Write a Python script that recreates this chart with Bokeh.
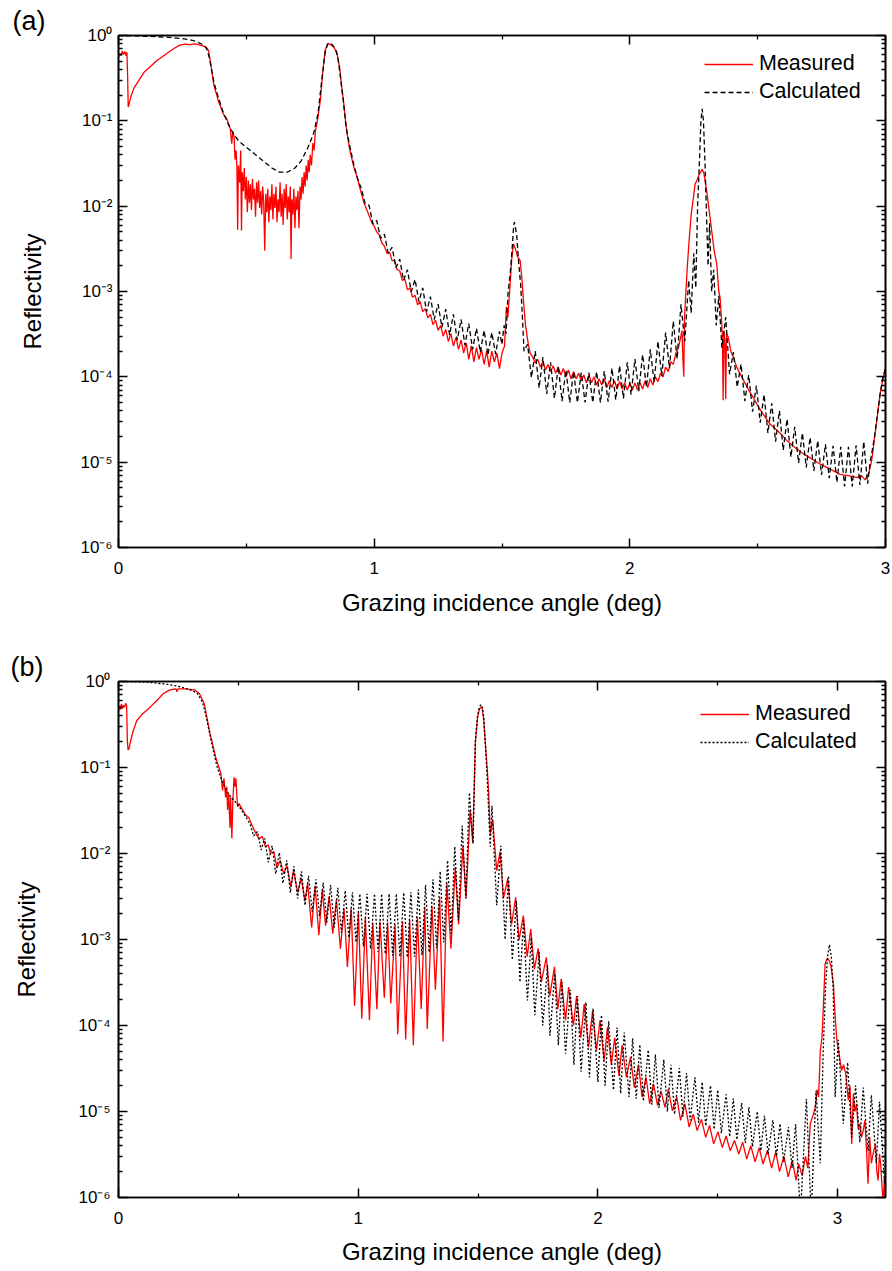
from bokeh.plotting import figure
from bokeh.models import (Range1d, LinearAxis, LogAxis, FixedTicker, CustomJSTickFormatter,
                          Legend, LegendItem, Title)
from bokeh.layouts import column
from bokeh.embed import file_html
from bokeh.resources import INLINE

FONT = "Liberation Sans"

# ---------------- Panel (a) data ----------------
a_meas_x = [
    0.000, 0.005, 0.010, 0.015, 0.020, 0.025, 0.030, 0.033, 0.036, 0.038,
    0.042, 0.050, 0.060, 0.080, 0.100, 0.124, 0.150, 0.170, 0.190, 0.215,
    0.240, 0.260, 0.280, 0.300, 0.320, 0.340, 0.352, 0.362, 0.372, 0.391,
    0.410, 0.424, 0.437, 0.443, 0.447, 0.452, 0.456, 0.460, 0.463, 0.466,
    0.469, 0.474, 0.478, 0.481, 0.484, 0.488, 0.492, 0.496, 0.500, 0.504,
    0.508, 0.512, 0.516, 0.520, 0.524, 0.528, 0.532, 0.536, 0.540, 0.544,
    0.548, 0.552, 0.556, 0.560, 0.564, 0.568, 0.572, 0.576, 0.580, 0.584,
    0.588, 0.592, 0.596, 0.600, 0.604, 0.608, 0.612, 0.616, 0.620, 0.624,
    0.628, 0.632, 0.636, 0.640, 0.644, 0.648, 0.652, 0.656, 0.660, 0.664,
    0.668, 0.672, 0.675, 0.678, 0.682, 0.686, 0.690, 0.694, 0.698, 0.702,
    0.706, 0.710, 0.714, 0.718, 0.722, 0.726, 0.730, 0.734, 0.738, 0.742,
    0.746, 0.750, 0.755, 0.760, 0.765, 0.770, 0.778, 0.789, 0.800, 0.808,
    0.815, 0.822, 0.830, 0.840, 0.854, 0.865, 0.872, 0.880, 0.888, 0.895,
    0.905, 0.920, 0.935, 0.945, 0.960, 0.975, 0.990, 1.000, 1.010, 1.020,
    1.030, 1.040, 1.050, 1.060, 1.070, 1.080, 1.090, 1.100, 1.110, 1.120,
    1.130, 1.140, 1.150, 1.160, 1.170, 1.180, 1.190, 1.200, 1.210, 1.220,
    1.230, 1.240, 1.250, 1.260, 1.270, 1.280, 1.290, 1.300, 1.310, 1.320,
    1.330, 1.340, 1.350, 1.360, 1.370, 1.380, 1.390, 1.400, 1.410, 1.420,
    1.430, 1.440, 1.450, 1.460, 1.470, 1.480, 1.490, 1.500, 1.510, 1.517,
    1.523, 1.530, 1.538, 1.545, 1.552, 1.560, 1.571, 1.578, 1.584, 1.592,
    1.603, 1.610, 1.620, 1.630, 1.640, 1.650, 1.660, 1.670, 1.680, 1.690,
    1.700, 1.710, 1.720, 1.730, 1.740, 1.750, 1.760, 1.770, 1.780, 1.790,
    1.800, 1.810, 1.820, 1.830, 1.840, 1.850, 1.860, 1.870, 1.880, 1.890,
    1.900, 1.910, 1.920, 1.930, 1.940, 1.950, 1.960, 1.970, 1.980, 1.990,
    2.000, 2.010, 2.020, 2.030, 2.040, 2.050, 2.060, 2.070, 2.080, 2.090,
    2.100, 2.110, 2.120, 2.130, 2.140, 2.150, 2.160, 2.170, 2.180, 2.190,
    2.200, 2.204, 2.208, 2.211, 2.214, 2.218, 2.225, 2.232, 2.240, 2.249,
    2.255, 2.262, 2.270, 2.283, 2.290, 2.302, 2.310, 2.320, 2.330, 2.340,
    2.348, 2.353, 2.358, 2.362, 2.365, 2.368, 2.372, 2.375, 2.378, 2.385,
    2.395, 2.405, 2.418, 2.430, 2.450, 2.465, 2.483, 2.500, 2.520, 2.548,
    2.580, 2.614, 2.645, 2.679, 2.710, 2.744, 2.780, 2.822, 2.860, 2.890,
    2.905, 2.920, 2.935, 2.946, 2.956, 2.966, 2.979, 2.990, 3.000,
]
a_meas_y = [
    0.55, 0.62, 0.58, 0.66, 0.60, 0.65, 0.58, 0.64, 0.30, 0.145,
    0.16, 0.20, 0.24, 0.30, 0.37, 0.43, 0.51, 0.56, 0.62, 0.70,
    0.77, 0.79, 0.78, 0.80, 0.77, 0.74, 0.67, 0.45, 0.27, 0.17,
    0.12, 0.105, 0.081, 0.054, 0.075, 0.065, 0.035, 0.045, 0.03, 0.0053,
    0.03, 0.019, 0.045, 0.0052, 0.025, 0.015, 0.028, 0.012, 0.022, 0.0085,
    0.02, 0.011, 0.018, 0.009, 0.021, 0.012, 0.016, 0.0075, 0.019, 0.011,
    0.02, 0.0095, 0.015, 0.008, 0.017, 0.011, 0.003, 0.014, 0.0085, 0.016,
    0.0065, 0.013, 0.009, 0.018, 0.007, 0.014, 0.0095, 0.017, 0.0065, 0.012,
    0.0085, 0.019, 0.0075, 0.014, 0.006, 0.016, 0.0095, 0.018, 0.007, 0.013,
    0.0085, 0.017, 0.0024, 0.012, 0.008, 0.016, 0.0055, 0.013, 0.009, 0.015,
    0.0055, 0.017, 0.012, 0.022, 0.014, 0.025, 0.017, 0.03, 0.02, 0.035,
    0.025, 0.04, 0.03, 0.055, 0.045, 0.075, 0.10, 0.17, 0.40, 0.67,
    0.76, 0.80, 0.78, 0.74, 0.64, 0.42, 0.26, 0.17, 0.10, 0.068,
    0.045, 0.029, 0.021, 0.016, 0.011, 0.0085, 0.0065, 5.8e-3, 5.0e-3, 4.6e-3,
    3.7e-3, 3.4e-3, 2.8e-3, 2.9e-3, 2.3e-3, 2.3e-3, 1.8e-3, 1.75e-3, 1.35e-3, 1.4e-3,
    1.05e-3, 1.1e-3, 8.6e-4, 9.0e-4, 7.0e-4, 7.6e-4, 5.8e-4, 6.3e-4, 4.9e-4, 5.4e-4,
    4.1e-4, 4.6e-4, 3.5e-4, 4.0e-4, 3.0e-4, 3.6e-4, 2.6e-4, 3.2e-4, 2.3e-4, 2.9e-4,
    2.1e-4, 2.7e-4, 1.9e-4, 2.5e-4, 1.6e-4, 2.3e-4, 1.5e-4, 2.2e-4, 1.6e-4, 2.1e-4,
    1.4e-4, 2.0e-4, 1.3e-4, 2.0e-4, 1.5e-4, 1.9e-4, 1.25e-4, 1.9e-4, 2.3e-4, 6.6e-4,
    5.0e-4, 1.0e-3, 2.4e-3, 3.6e-3, 3.2e-3, 2.6e-3, 2.3e-3, 1.4e-3, 7.8e-4, 4.0e-4,
    2.4e-4, 1.9e-4, 1.7e-4, 1.45e-4, 1.6e-4, 1.3e-4, 1.5e-4, 1.2e-4, 1.4e-4, 1.15e-4,
    1.35e-4, 1.1e-4, 1.3e-4, 1.05e-4, 1.25e-4, 1.0e-4, 1.2e-4, 9.5e-5, 1.15e-4, 9.5e-5,
    1.1e-4, 9.0e-5, 1.05e-4, 8.5e-5, 1.05e-4, 8.5e-5, 1.0e-4, 8.0e-5, 9.5e-5, 8.0e-5,
    9.5e-5, 7.5e-5, 9.0e-5, 7.5e-5, 9.0e-5, 7.2e-5, 8.8e-5, 7.2e-5, 8.5e-5, 7.0e-5,
    8.5e-5, 7.0e-5, 8.5e-5, 7.0e-5, 8.5e-5, 7.2e-5, 9.0e-5, 7.5e-5, 9.5e-5, 8.0e-5,
    1.0e-4, 8.8e-5, 1.1e-4, 1.0e-4, 1.3e-4, 1.15e-4, 1.5e-4, 1.4e-4, 1.9e-4, 2.2e-4,
    3.0e-4, 3.5e-4, 1.5e-4, 1.0e-4, 5.0e-4, 8.5e-4, 2.0e-3, 4.0e-3, 8.0e-3, 1.27e-2,
    1.8e-2, 2.0e-2, 2.3e-2, 2.7e-2, 2.4e-2, 1.4e-2, 9.0e-3, 5.2e-3, 3.0e-3, 2.1e-3,
    1.0e-3, 8.5e-4, 5.0e-4, 3.0e-4, 5.3e-5, 3.5e-4, 2.5e-4, 5.5e-5, 3.2e-4, 2.9e-4,
    2.0e-4, 1.7e-4, 1.3e-4, 1.1e-4, 8.5e-5, 7.0e-5, 5.7e-5, 4.6e-5, 3.7e-5, 2.8e-5,
    2.3e-5, 1.8e-5, 1.5e-5, 1.25e-5, 1.1e-5, 9.5e-6, 8.4e-6, 7.2e-6, 6.9e-6, 6.6e-6,
    7.0e-6, 6.2e-6, 7.5e-6, 1.05e-5, 1.8e-5, 3.1e-5, 6.3e-5, 9.5e-5, 1.25e-4,
]

a_calc_x = [
    0.000, 0.050, 0.100, 0.150, 0.200, 0.250, 0.280, 0.300, 0.320, 0.335,
    0.345, 0.355, 0.365, 0.375, 0.390, 0.410, 0.430, 0.450, 0.470, 0.500,
    0.550, 0.600, 0.630, 0.660, 0.690, 0.715, 0.740, 0.763, 0.780, 0.795,
    0.808, 0.818, 0.826, 0.836, 0.848, 0.858, 0.868, 0.878, 0.890, 0.905,
    0.920, 0.935, 0.950, 0.965, 0.980, 0.995, 1.010, 1.025, 1.040, 1.055,
    1.070, 1.085, 1.100, 1.115, 1.130, 1.145, 1.160, 1.175, 1.190, 1.205,
    1.220, 1.235, 1.250, 1.265, 1.280, 1.295, 1.310, 1.325, 1.340, 1.355,
    1.370, 1.385, 1.400, 1.415, 1.430, 1.445, 1.460, 1.475, 1.490, 1.500,
    1.508, 1.516, 1.524, 1.532, 1.539, 1.545, 1.548, 1.552, 1.558, 1.565,
    1.573, 1.580, 1.586, 1.600, 1.615, 1.630, 1.645, 1.660, 1.675, 1.690,
    1.705, 1.720, 1.735, 1.750, 1.765, 1.780, 1.795, 1.810, 1.825, 1.840,
    1.855, 1.870, 1.885, 1.900, 1.915, 1.930, 1.945, 1.960, 1.975, 1.990,
    2.005, 2.020, 2.035, 2.050, 2.065, 2.080, 2.095, 2.110, 2.125, 2.140,
    2.155, 2.170, 2.185, 2.200, 2.215, 2.230, 2.240, 2.250, 2.258, 2.265,
    2.272, 2.278, 2.283, 2.288, 2.294, 2.300, 2.306, 2.312, 2.320, 2.328,
    2.338, 2.348, 2.360, 2.375, 2.390, 2.405, 2.420, 2.435, 2.450, 2.465,
    2.480, 2.495, 2.510, 2.525, 2.540, 2.555, 2.570, 2.585, 2.600, 2.615,
    2.630, 2.645, 2.660, 2.675, 2.690, 2.705, 2.720, 2.735, 2.750, 2.765,
    2.780, 2.795, 2.810, 2.825, 2.840, 2.855, 2.870, 2.885, 2.900, 2.915,
    2.930, 2.940, 2.955, 2.966, 2.979, 2.990, 3.000,
]
a_calc_y = [
    1.0, 0.99, 0.98, 0.97, 0.95, 0.92, 0.89, 0.86, 0.81, 0.76,
    0.70, 0.55, 0.38, 0.27, 0.19, 0.125, 0.09, 0.07, 0.058, 0.049,
    0.037, 0.028, 0.025, 0.025, 0.028, 0.034, 0.048, 0.071, 0.12, 0.30,
    0.62, 0.80, 0.82, 0.78, 0.70, 0.55, 0.33, 0.19, 0.085, 0.05,
    0.031, 0.021, 0.016, 1.07e-2, 1.02e-2, 6.2e-3, 6.8e-3, 4.2e-3, 4.7e-3, 2.8e-3,
    3.3e-3, 1.9e-3, 2.4e-3, 1.35e-3, 1.8e-3, 1.0e-3, 1.38e-3, 7.6e-4, 1.1e-3, 5.8e-4,
    8.7e-4, 4.7e-4, 7.1e-4, 3.8e-4, 6.2e-4, 3.1e-4, 5.4e-4, 2.7e-4, 4.7e-4, 2.35e-4,
    4.2e-4, 2.1e-4, 3.7e-4, 1.95e-4, 3.5e-4, 1.8e-4, 3.3e-4, 1.85e-4, 3.4e-4, 2.4e-4,
    4.0e-4, 3.2e-4, 1.0e-3, 1.6e-3, 3.0e-3, 5.5e-3, 6.5e-3, 5.8e-3, 4.4e-3, 2.2e-3,
    1.2e-3, 5.0e-4, 2.0e-4, 2.4e-4, 9.8e-5, 2.0e-4, 7.4e-5, 1.7e-4, 6.3e-5, 1.48e-4,
    5.6e-5, 1.32e-4, 5.2e-5, 1.2e-4, 5.0e-5, 1.15e-4, 5.0e-5, 1.12e-4, 5.0e-5, 1.12e-4,
    5.0e-5, 1.15e-4, 5.0e-5, 1.17e-4, 5.1e-5, 1.26e-4, 5.4e-5, 1.35e-4, 5.6e-5, 1.48e-4,
    6.2e-5, 1.62e-4, 6.8e-5, 1.82e-4, 7.6e-5, 2.1e-4, 8.7e-5, 2.6e-4, 1.02e-4, 3.3e-4,
    1.26e-4, 4.5e-4, 1.62e-4, 7.1e-4, 2.6e-4, 1.35e-3, 5.6e-4, 2.8e-3, 1.1e-3, 1.0e-2,
    3.2e-2, 0.1, 0.138, 0.1, 3.2e-2, 7.9e-3, 2.0e-3, 6.3e-3, 1.0e-3, 1.8e-3,
    4.0e-4, 8.9e-4, 2.2e-4, 5.0e-4, 1.07e-4, 1.95e-4, 7.6e-5, 1.41e-4, 5.2e-5, 1.05e-4,
    3.9e-5, 7.9e-5, 2.9e-5, 6.2e-5, 2.2e-5, 4.9e-5, 1.74e-5, 4.0e-5, 1.38e-5, 3.2e-5,
    1.15e-5, 2.6e-5, 9.8e-6, 2.2e-5, 8.7e-6, 1.95e-5, 7.9e-6, 1.78e-5, 7.1e-6, 1.62e-5,
    6.5e-6, 1.55e-5, 5.8e-6, 1.51e-5, 5.2e-6, 1.51e-5, 5.2e-6, 1.58e-5, 5.4e-6, 1.74e-5,
    5.6e-6, 1.0e-5, 1.8e-5, 3.2e-5, 6.3e-5, 1.0e-4, 1.25e-4,
]

# ---------------- Panel (b) data ----------------
b_meas_x = [
    0.000, 0.004, 0.008, 0.012, 0.016, 0.020, 0.025, 0.030, 0.034, 0.037,
    0.040, 0.044, 0.048, 0.060, 0.076, 0.100, 0.131, 0.160, 0.186, 0.214,
    0.240, 0.244, 0.248, 0.280, 0.317, 0.338, 0.358, 0.379, 0.406, 0.427,
    0.434, 0.440, 0.447, 0.452, 0.455, 0.460, 0.465, 0.468, 0.473, 0.477,
    0.482, 0.486, 0.490, 0.494, 0.497, 0.503, 0.515, 0.530, 0.544, 0.558,
    0.572, 0.586, 0.600, 0.613, 0.625, 0.634, 0.648, 0.661, 0.675, 0.689,
    0.703, 0.719, 0.730, 0.748, 0.762, 0.778, 0.789, 0.806, 0.820, 0.836,
    0.850, 0.864, 0.879, 0.894, 0.909, 0.926, 0.941, 0.955, 0.971, 0.985,
    1.001, 1.015, 1.030, 1.047, 1.061, 1.078, 1.091, 1.109, 1.123, 1.136,
    1.154, 1.165, 1.185, 1.198, 1.215, 1.230, 1.247, 1.263, 1.278, 1.288,
    1.308, 1.322, 1.340, 1.354, 1.370, 1.387, 1.405, 1.419, 1.437, 1.450,
    1.467, 1.478, 1.489, 1.498, 1.506, 1.512, 1.518, 1.524, 1.530, 1.538,
    1.544, 1.551, 1.561, 1.578, 1.592, 1.606, 1.624, 1.640, 1.657, 1.671,
    1.689, 1.705, 1.720, 1.735, 1.751, 1.764, 1.785, 1.799, 1.819, 1.833,
    1.847, 1.865, 1.878, 1.898, 1.911, 1.929, 1.943, 1.961, 1.978, 1.994,
    2.009, 2.026, 2.040, 2.056, 2.070, 2.088, 2.101, 2.119, 2.136, 2.152,
    2.170, 2.184, 2.201, 2.216, 2.232, 2.249, 2.263, 2.280, 2.294, 2.311,
    2.329, 2.345, 2.363, 2.381, 2.398, 2.414, 2.432, 2.450, 2.466, 2.483,
    2.501, 2.519, 2.535, 2.552, 2.570, 2.588, 2.604, 2.621, 2.638, 2.656,
    2.673, 2.689, 2.707, 2.725, 2.742, 2.758, 2.776, 2.794, 2.811, 2.827,
    2.838, 2.852, 2.866, 2.876, 2.886, 2.897, 2.907, 2.915, 2.921, 2.928,
    2.935, 2.942, 2.948, 2.955, 2.960, 2.966, 2.973, 2.983, 2.990, 2.997,
    3.007, 3.017, 3.025, 3.034, 3.045, 3.052, 3.059, 3.066, 3.072, 3.079,
    3.086, 3.093, 3.100, 3.107, 3.114, 3.121, 3.127, 3.134, 3.141, 3.148,
    3.158, 3.164, 3.169, 3.175, 3.180, 3.186, 3.190, 3.196, 3.200,
]
b_meas_y = [
    0.45, 0.52, 0.47, 0.55, 0.48, 0.53, 0.50, 0.56, 0.52, 0.20,
    0.16, 0.165, 0.19, 0.26, 0.35, 0.42, 0.50, 0.60, 0.72, 0.80,
    0.82, 0.76, 0.82, 0.82, 0.80, 0.72, 0.55, 0.27, 0.13, 0.085,
    0.054, 0.075, 0.045, 0.06, 0.032, 0.05, 0.02, 0.045, 0.015, 0.04,
    0.077, 0.06, 0.075, 0.045, 0.035, 0.038, 0.033, 0.028, 0.026, 2.1e-2,
    1.74e-2, 1.48e-2, 1.58e-2, 1.2e-2, 1.26e-2, 1.0e-2, 1.05e-2, 6.9e-3, 8.3e-3, 5.8e-3,
    7.2e-3, 4.1e-3, 6.3e-3, 3.5e-3, 5.2e-3, 2.8e-3, 4.5e-3, 1.38e-3, 4.2e-3, 1.12e-3,
    3.8e-3, 1.45e-3, 3.2e-3, 1.17e-3, 2.9e-3, 7.8e-4, 2.3e-3, 4.8e-4, 2.3e-3, 1.7e-4,
    2.1e-3, 1.2e-4, 1.82e-3, 1.15e-4, 1.58e-3, 1.55e-4, 1.62e-3, 2.1e-4, 1.58e-3, 1.8e-4,
    1.5e-3, 7.9e-5, 1.62e-3, 6.9e-5, 1.7e-3, 5.9e-5, 1.82e-3, 1.55e-4, 2.4e-3, 9.1e-5,
    2.45e-3, 2.6e-4, 3.1e-3, 6.5e-5, 4.5e-3, 7.8e-4, 6.9e-3, 1.5e-3, 1.23e-2, 3.0e-3,
    3.2e-2, 1.35e-2, 0.20, 0.38, 0.48, 0.50, 0.48, 0.35, 0.20, 0.10,
    5.4e-2, 1.7e-2, 2.5e-2, 6.3e-3, 1.05e-2, 3.0e-3, 5.1e-3, 1.5e-3, 3.1e-3, 9.8e-4,
    1.9e-3, 6.3e-4, 1.32e-3, 4.5e-4, 7.9e-4, 3.2e-4, 6.2e-4, 2.2e-4, 4.8e-4, 1.55e-4,
    3.5e-4, 1.15e-4, 2.8e-4, 1.0e-4, 2.2e-4, 7.2e-5, 1.78e-4, 5.6e-5, 1.48e-4, 5.1e-5,
    1.15e-4, 3.9e-5, 9.5e-5, 3.5e-5, 7.2e-5, 2.6e-5, 5.9e-5, 2.5e-5, 4.3e-5, 1.9e-5,
    3.5e-5, 1.48e-5, 2.5e-5, 1.23e-5, 2.1e-5, 1.17e-5, 1.74e-5, 1.12e-5, 1.82e-5, 1.02e-5,
    1.48e-5, 7.9e-6, 1.23e-5, 6.6e-6, 9.3e-6, 6.0e-6, 8.1e-6, 5.0e-6, 6.9e-6, 4.2e-6,
    5.8e-6, 3.8e-6, 5.2e-6, 3.5e-6, 4.6e-6, 3.2e-6, 4.4e-6, 2.8e-6, 4.0e-6, 2.6e-6,
    3.8e-6, 2.45e-6, 3.5e-6, 2.2e-6, 3.4e-6, 2.0e-6, 3.0e-6, 1.74e-6, 2.7e-6, 1.58e-6,
    2.45e-6, 1.8e-6, 3.0e-6, 2.2e-6, 7.2e-6, 8.9e-6, 1.12e-5, 1.8e-5, 1.48e-5, 5.1e-5,
    7.2e-5, 2.0e-4, 5.2e-4, 5.9e-4, 6.0e-4, 5.6e-4, 4.8e-4, 3.0e-4, 1.26e-4, 6.8e-5,
    4.5e-5, 3.0e-5, 3.5e-5, 2.75e-5, 1.35e-5, 2.0e-5, 4.2e-6, 1.62e-5, 1.0e-5, 1.23e-5,
    6.3e-6, 7.2e-6, 5.0e-6, 6.0e-6, 7.9e-6, 3.5e-6, 1.45e-6, 5.0e-6, 2.5e-6, 3.2e-6,
    4.2e-6, 2.0e-6, 1.58e-6, 3.2e-6, 2.45e-6, 1.26e-6, 8.9e-7, 1.74e-6, 7.9e-7,
]

b_calc_x = [
    0.000, 0.050, 0.100, 0.150, 0.200, 0.250, 0.280, 0.310, 0.330, 0.350,
    0.365, 0.380, 0.395, 0.410, 0.430, 0.450, 0.470, 0.490, 0.510, 0.530,
    0.549, 0.564, 0.580, 0.595, 0.610, 0.625, 0.641, 0.656, 0.671, 0.686,
    0.702, 0.717, 0.732, 0.747, 0.763, 0.778, 0.793, 0.808, 0.824, 0.839,
    0.854, 0.869, 0.885, 0.900, 0.915, 0.930, 0.946, 0.961, 0.976, 0.991,
    1.007, 1.022, 1.037, 1.052, 1.068, 1.083, 1.098, 1.113, 1.129, 1.144,
    1.159, 1.174, 1.190, 1.205, 1.220, 1.235, 1.251, 1.266, 1.281, 1.296,
    1.312, 1.327, 1.342, 1.357, 1.373, 1.388, 1.403, 1.418, 1.434, 1.449,
    1.464, 1.479, 1.489, 1.498, 1.506, 1.512, 1.518, 1.524, 1.530, 1.538,
    1.545, 1.551, 1.558, 1.578, 1.595, 1.613, 1.627, 1.643, 1.660, 1.675,
    1.690, 1.706, 1.722, 1.737, 1.755, 1.770, 1.790, 1.800, 1.820, 1.835,
    1.850, 1.865, 1.885, 1.900, 1.915, 1.930, 1.950, 1.965, 1.980, 2.000,
    2.015, 2.030, 2.045, 2.065, 2.080, 2.095, 2.110, 2.130, 2.145, 2.160,
    2.175, 2.190, 2.210, 2.225, 2.240, 2.255, 2.275, 2.290, 2.305, 2.320,
    2.340, 2.355, 2.370, 2.385, 2.405, 2.420, 2.435, 2.450, 2.470, 2.485,
    2.500, 2.515, 2.535, 2.550, 2.565, 2.580, 2.600, 2.615, 2.630, 2.645,
    2.665, 2.680, 2.695, 2.710, 2.730, 2.745, 2.760, 2.775, 2.795, 2.810,
    2.825, 2.845, 2.870, 2.890, 2.910, 2.928, 2.940, 2.950, 2.958, 2.966,
    2.974, 2.982, 2.990, 3.003, 3.024, 3.042, 3.059, 3.075, 3.093, 3.107,
    3.127, 3.141, 3.162, 3.175, 3.196, 3.200,
]
b_calc_y = [
    1.0, 0.995, 0.985, 0.965, 0.93, 0.88, 0.83, 0.78, 0.72, 0.58,
    0.40, 0.25, 0.16, 0.105, 0.072, 0.054, 0.045, 0.039, 0.033, 0.027,
    2.2e-2, 1.6e-2, 1.8e-2, 1.1e-2, 1.5e-2, 7.9e-3, 1.23e-2, 5.8e-3, 1.02e-2, 4.5e-3,
    8.3e-3, 3.5e-3, 7.1e-3, 3.0e-3, 6.2e-3, 2.5e-3, 5.5e-3, 2.1e-3, 5.0e-3, 1.86e-3,
    4.6e-3, 1.58e-3, 4.3e-3, 1.38e-3, 4.0e-3, 1.2e-3, 3.7e-3, 1.05e-3, 3.55e-3, 9.3e-4,
    3.4e-3, 8.3e-4, 3.4e-3, 7.8e-4, 3.4e-3, 7.2e-4, 3.4e-3, 6.8e-4, 3.4e-3, 6.5e-4,
    3.4e-3, 6.3e-4, 3.5e-3, 6.2e-4, 3.55e-3, 6.3e-4, 3.8e-3, 6.6e-4, 4.3e-3, 7.1e-4,
    5.0e-3, 7.9e-4, 6.2e-3, 9.3e-4, 8.3e-3, 1.17e-3, 1.2e-2, 1.66e-3, 2.1e-2, 3.0e-3,
    5.1e-2, 1.3e-2, 0.20, 0.40, 0.50, 0.54, 0.50, 0.38, 0.20, 0.08,
    2.8e-2, 1.2e-2, 3.6e-2, 2.5e-3, 1.23e-2, 1.0e-3, 5.5e-3, 5.8e-4, 2.8e-3, 3.2e-4,
    1.66e-3, 1.95e-4, 1.05e-3, 1.32e-4, 7.1e-4, 1.0e-4, 5.0e-4, 7.6e-5, 4.0e-4, 5.9e-5,
    3.2e-4, 4.7e-5, 2.6e-4, 3.5e-5, 2.2e-4, 2.9e-5, 1.86e-4, 2.5e-5, 1.58e-4, 2.2e-5,
    1.32e-4, 2.0e-5, 1.12e-4, 1.78e-5, 9.5e-5, 1.62e-5, 8.3e-5, 1.48e-5, 7.1e-5, 1.41e-5,
    6.0e-5, 1.32e-5, 5.2e-5, 1.2e-5, 4.6e-5, 1.1e-5, 4.0e-5, 1.0e-5, 3.5e-5, 9.3e-6,
    3.2e-5, 8.7e-6, 2.8e-5, 7.9e-6, 2.5e-5, 7.4e-6, 2.2e-5, 6.8e-6, 2.0e-5, 6.2e-6,
    1.78e-5, 5.6e-6, 1.58e-5, 5.1e-6, 1.41e-5, 4.7e-6, 1.26e-5, 4.3e-6, 1.12e-5, 3.9e-6,
    1.0e-5, 3.5e-6, 8.9e-6, 3.2e-6, 7.9e-6, 3.0e-6, 7.2e-6, 2.6e-6, 6.6e-6, 2.2e-6,
    7.1e-6, 6.3e-7, 1.4e-5, 6.3e-7, 1.74e-5, 2.5e-6, 5.0e-5, 2.8e-4, 6.3e-4, 8.7e-4,
    6.3e-4, 2.5e-4, 1.48e-5, 6.8e-5, 7.2e-6, 3.7e-5, 5.0e-6, 2.0e-5, 4.4e-6, 1.9e-5,
    3.5e-6, 1.55e-5, 2.5e-6, 1.3e-5, 1.45e-6, 3.2e-6,
]

# ---------------- Axis ticks / labels ----------------
x_major_ticks = [0, 1, 2, 3]
x_minor_ticks = [0.5, 1.5, 2.5]
y_major_ticks = [1e-6, 1e-5, 1e-4, 1e-3, 1e-2, 1e-1, 1.0]
y_minor_ticks = [m * d for d in [1e-6, 1e-5, 1e-4, 1e-3, 1e-2, 1e-1] for m in range(2, 10)]
x_title = "Grazing incidence angle (deg)"
y_title = "Reflectivity"
series_labels = ["Measured", "Calculated"]
panel_tags = ["(a)", "(b)"]

SUP_JS = """
const e = Math.round(Math.log10(tick));
const m = {"-":"\\u207b","0":"\\u2070","1":"\\u00b9","2":"\\u00b2","3":"\\u00b3",
           "4":"\\u2074","5":"\\u2075","6":"\\u2076","7":"\\u2077","8":"\\u2078","9":"\\u2079"};
let s = "";
for (const c of String(e)) { s += m[c]; }
return "10" + s;
"""


def style_axis(ax, ticker, labels=True):
    ax.ticker = ticker
    ax.axis_line_color = "black"
    ax.axis_line_width = 1.6
    ax.major_tick_line_color = "black"
    ax.major_tick_line_width = 1.5
    ax.minor_tick_line_color = "black"
    ax.minor_tick_line_width = 1.3
    ax.major_tick_in = 9
    ax.major_tick_out = 0
    ax.minor_tick_in = 4
    ax.minor_tick_out = 0
    ax.major_label_text_font = FONT
    ax.major_label_text_color = "black"
    ax.axis_label_text_font = FONT
    ax.axis_label_text_font_style = "normal"
    ax.axis_label_text_font_size = "24px"
    ax.axis_label_text_color = "black"
    if labels:
        ax.major_label_text_font_size = "17px"
    else:
        ax.major_label_text_font_size = "0px"
        ax.major_label_standoff = 0
        ax.formatter = CustomJSTickFormatter(code="return '';")


def make_panel(xmax, height, bl, bt, bb, br, mx, my, cx, cy, dash, tag,
               tag_offset, leg_margin, x_label_standoff, y_label_standoff, y_major_standoff):
    p = figure(width=892, height=height, output_backend="svg", toolbar_location=None,
               x_range=Range1d(0, xmax), y_range=Range1d(1e-6, 1.0), y_axis_type="log",
               min_border_left=bl, min_border_top=bt, min_border_bottom=bb, min_border_right=br)
    p.grid.visible = False
    p.outline_line_color = "black"
    p.outline_line_width = 1.6
    p.background_fill_color = "white"
    p.border_fill_color = "white"

    xt = FixedTicker(ticks=x_major_ticks, minor_ticks=x_minor_ticks)
    yt = FixedTicker(ticks=y_major_ticks, minor_ticks=y_minor_ticks)

    xa = p.xaxis[0]
    style_axis(xa, xt)
    xa.axis_label = x_title
    xa.major_label_standoff = 14
    xa.axis_label_standoff = x_label_standoff

    ya = p.yaxis[0]
    style_axis(ya, yt)
    ya.formatter = CustomJSTickFormatter(code=SUP_JS)
    ya.axis_label = y_title
    ya.major_label_standoff = y_major_standoff
    ya.axis_label_standoff = y_label_standoff

    top = LinearAxis()
    style_axis(top, FixedTicker(ticks=x_major_ticks, minor_ticks=x_minor_ticks), labels=False)
    p.add_layout(top, "above")
    right = LogAxis()
    style_axis(right, FixedTicker(ticks=y_major_ticks, minor_ticks=y_minor_ticks), labels=False)
    p.add_layout(right, "right")

    r_meas = p.line(mx, my, line_color="#ff0000", line_width=1.3)
    r_calc = p.line(cx, cy, line_color="black", line_width=1.3, line_dash=dash)

    leg = Legend(items=[LegendItem(label=series_labels[0], renderers=[r_meas]),
                        LegendItem(label=series_labels[1], renderers=[r_calc])],
                 location="top_right", margin=leg_margin, padding=0, spacing=3,
                 glyph_width=49, glyph_height=24, label_height=24, label_width=110,
                 label_standoff=6, label_text_font=FONT, label_text_font_size="21.5px",
                 label_text_color="black", border_line_color=None, background_fill_alpha=0)
    p.add_layout(leg)

    # panel tag as a side-panel title, shifted left to sit above the y-axis labels
    tag_title = Title(text=tag, align="left", offset=tag_offset, standoff=0,
                      vertical_align="bottom", text_font=FONT, text_font_size="27px",
                      text_font_style="normal", text_color="black")
    p.add_layout(tag_title, "above")
    return p


pa = make_panel(3.0, 630, 118, 35, 83, 7, a_meas_x, a_meas_y, a_calc_x, a_calc_y,
                "5 3", panel_tags[0], -106, 16, 12, 31, 6)
pb = make_panel(3.2, 641, 115, 51, 74, 2, b_meas_x, b_meas_y, b_calc_x, b_calc_y,
                "2 2", panel_tags[1], -108, 20, 11, 35, 8)

layout = column(pa, pb, spacing=0)
open("out.html", "w").write(file_html(layout, INLINE))
